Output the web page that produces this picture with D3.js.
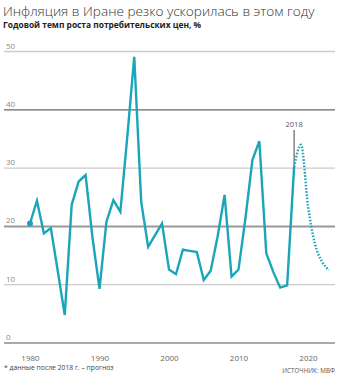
<!DOCTYPE html>
<html><head><meta charset="utf-8">
<script src="https://cdn.jsdelivr.net/npm/d3@7"></script>
<style>body{margin:0;background:#fff}svg{display:block}</style>
</head><body>
<script>
const title = "Инфляция в Иране резко ускорилась в этом году";
const subtitle = "Годовой темп роста потребительских цен, %";
const footnote = "* данные после 2018 г. – прогноз";
const source = "ИСТОЧНИК: МВФ";
const years = [1980,1981,1982,1983,1984,1985,1986,1987,1988,1989,1990,1991,1992,1993,1994,1995,1996,1997,1998,1999,2000,2001,2002,2003,2004,2005,2006,2007,2008,2009,2010,2011,2012,2013,2014,2015,2016,2017,2018];
const inflation = [20.5,24.4,18.8,19.7,12.3,4.8,23.7,27.7,28.8,18.0,9.3,20.8,24.5,22.5,35.4,49.1,24.2,16.5,18.5,20.5,12.6,11.8,16.0,15.8,15.6,10.8,12.4,18.3,25.4,11.4,12.6,21.4,31.4,34.6,15.4,12.2,9.5,9.9,30.2];
const forecastYears = [2018,2019,2020,2021,2022,2023];
const forecast = [30.2,34.0,23.5,17.0,14.0,12.5];
const yTicks = [0,10,20,30,40,50];
const xTicks = [1980,1990,2000,2010,2020];
const markYear = 2018;

const W = 353, H = 380;
const svg = d3.select("body").append("svg").attr("width", W).attr("height", H);
const x = d3.scaleLinear().domain([1980, 2020]).range([30, 308]);
const y = d3.scaleLinear().domain([0, 50]).range([343, 51.5]);
const font = "'Open Sans', 'Noto Sans', sans-serif";

svg.append("text").attr("x", 3).attr("y", 16).text(title)
  .attr("font-family", font).attr("font-weight", 300).attr("font-size", 13.6).attr("fill", "#333");
svg.append("text").attr("x", 3).attr("y", 28).text(subtitle)
  .attr("font-family", font).attr("font-weight", 700).attr("font-size", 8.4).attr("fill", "#222");

const gridStyle = {0:["#555",1.2],10:["#ccc",1.3],20:["#999",2],30:["#ccc",1.3],40:["#666",1.2],50:["#ccc",1.3]};
const g = svg.append("g");
yTicks.forEach(t => {
  g.append("line").attr("x1", 4).attr("x2", 335).attr("y1", y(t)).attr("y2", y(t))
    .attr("stroke", gridStyle[t][0]).attr("stroke-width", gridStyle[t][1]);
  g.append("text").attr("x", 6).attr("y", y(t) - 3).text(t)
    .attr("font-family", font).attr("font-size", 8).attr("fill", "#888");
});

const xAxis = svg.append("g").attr("transform", `translate(0,${y(0)})`)
  .call(d3.axisBottom(x).tickValues(xTicks).tickFormat(d3.format("d")).tickSize(0).tickPadding(12));
xAxis.select(".domain").remove();
xAxis.selectAll("text").attr("font-family", font).attr("font-size", 8).attr("fill", "#666");

// 2018 marker
svg.append("line").attr("x1", x(markYear)).attr("x2", x(markYear))
  .attr("y1", 130).attr("y2", y(inflation[inflation.length-1]))
  .attr("stroke", "#444").attr("stroke-width", 1);
svg.append("text").attr("x", x(markYear)).attr("y", 127).attr("text-anchor", "middle").text(markYear)
  .attr("font-family", font).attr("font-size", 7.5).attr("fill", "#555");

const color = "#1aa5b8";
const line = d3.line().x((d, i) => x(years[i])).y(d => y(d));
svg.append("path").datum(inflation).attr("d", line)
  .attr("fill", "none").attr("stroke", color).attr("stroke-width", 2.4).attr("stroke-linejoin", "miter");
const fline = d3.line().x((d, i) => x(forecastYears[i])).y(d => y(d)).curve(d3.curveMonotoneX);
svg.append("path").datum(forecast).attr("d", fline)
  .attr("fill", "none").attr("stroke", color).attr("stroke-width", 2.4).attr("stroke-dasharray", "1.6,1.6");
svg.append("circle").attr("cx", x(years[0])).attr("cy", y(inflation[0])).attr("r", 3).attr("fill", color);

svg.append("text").attr("x", 4).attr("y", 370).text(footnote)
  .attr("font-family", font).attr("font-size", 6.8).attr("fill", "#444");
svg.append("text").attr("x", 335).attr("y", 373).attr("text-anchor", "end").text(source)
  .attr("font-family", font).attr("font-size", 6.3).attr("fill", "#555");
</script>
</body></html>
